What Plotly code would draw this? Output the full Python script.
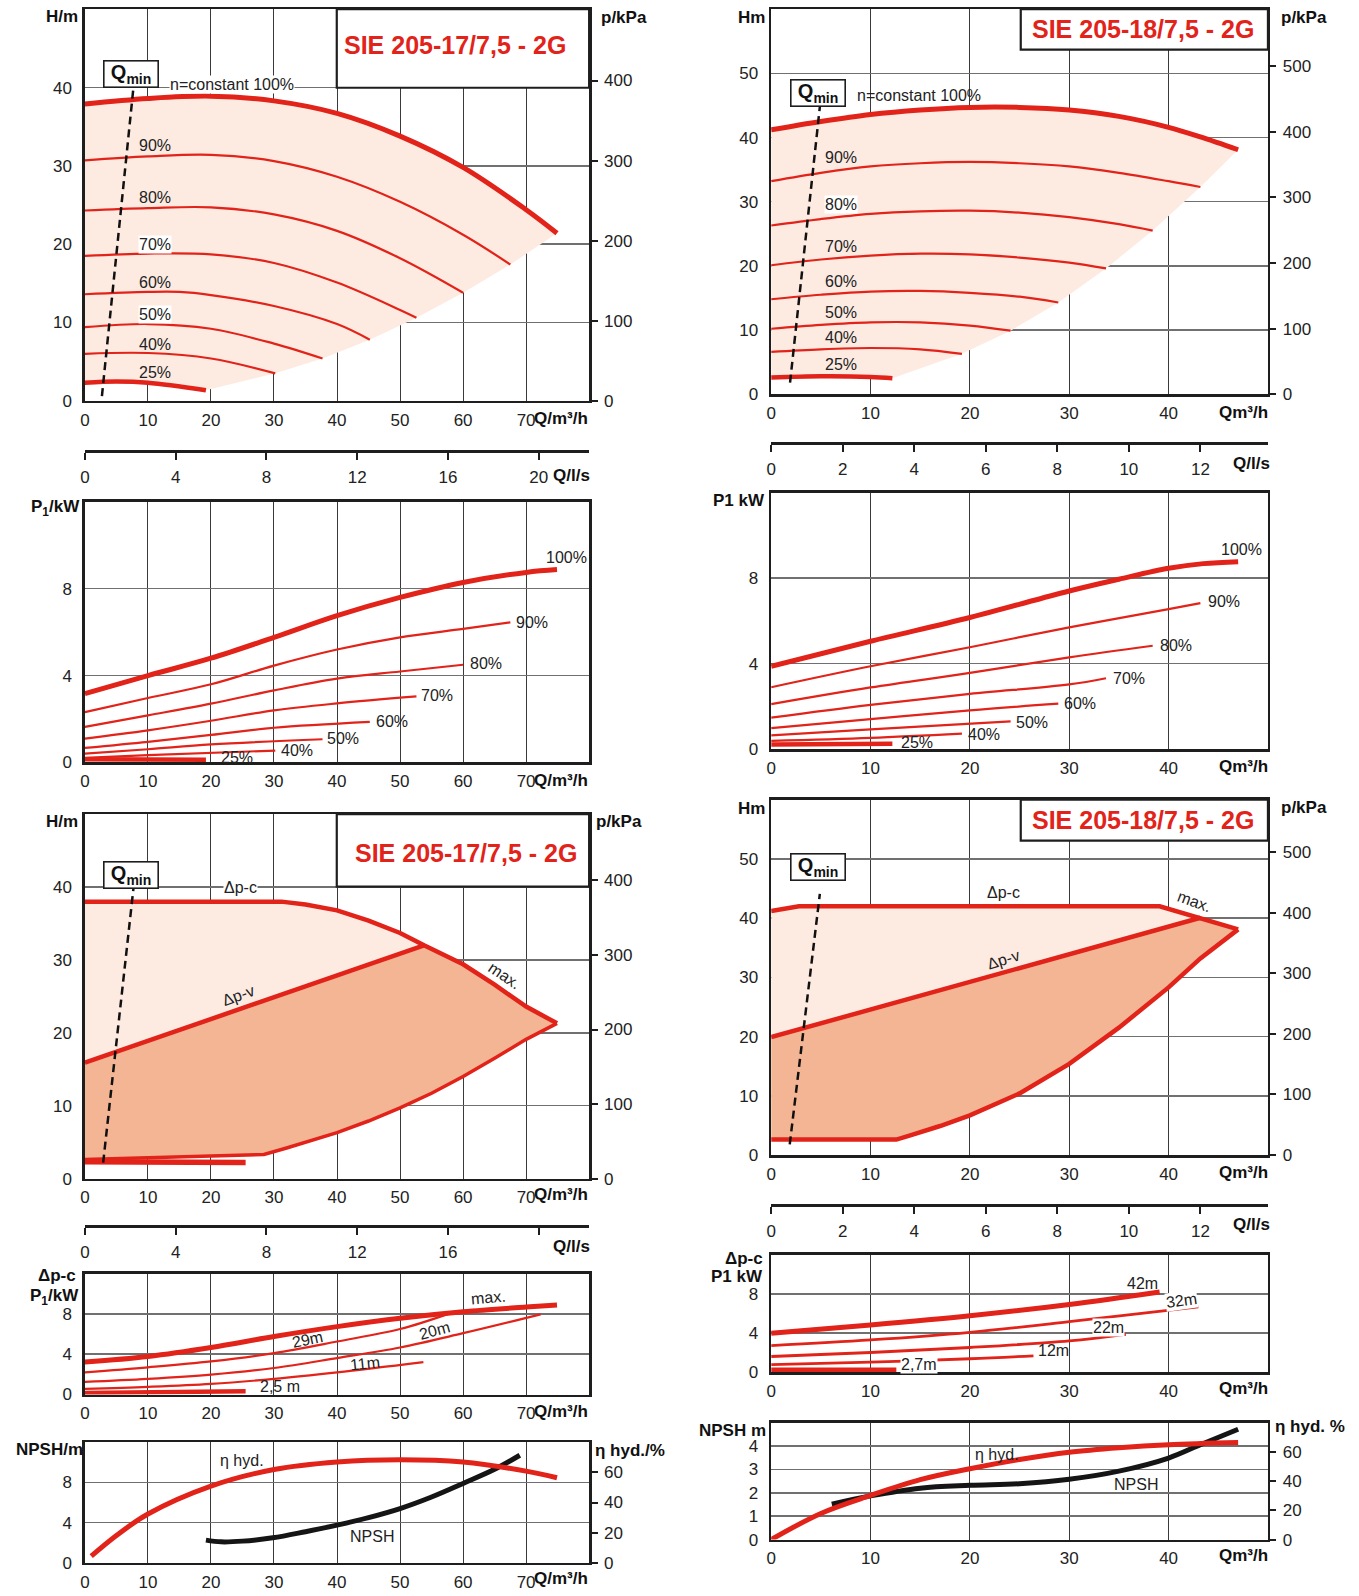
import plotly.graph_objects as go

# ------------------------------------------------------------------ data
KPA_PER_M = 9.78          # right pressure axis = head * 9.78
M3H_PER_LS = 3.6          # Q/l/s axis = Q/m3h / 3.6

TITLE_17 = "SIE 205-17/7,5 - 2G"
TITLE_18 = "SIE 205-18/7,5 - 2G"

# Panel A : SIE 205-17, H(Q) for speed steps
A_Q100 = [0, 10, 20, 30, 40, 50, 60, 70, 74.9]
A_H100 = [37.9, 38.6, 38.9, 38.3, 36.7, 33.8, 29.8, 24.4, 21.4]
A_Q90 = [0, 10, 20, 30, 40, 50, 60, 67.5]
A_H90 = [30.7, 31.2, 31.4, 30.6, 28.6, 25.4, 21.2, 17.4]
A_Q80 = [0, 10, 20, 30, 40, 50, 60]
A_H80 = [24.3, 24.6, 24.7, 23.8, 21.7, 18.2, 13.8]
A_Q70 = [0, 10, 20, 30, 40, 50, 52.6]
A_H70 = [18.5, 18.8, 18.7, 17.6, 15.1, 11.6, 10.6]
A_Q60 = [0, 10, 15, 20, 30, 40, 45.2]
A_H60 = [13.6, 13.9, 13.9, 13.5, 12.1, 9.8, 7.8]
A_Q50 = [0, 10, 20, 30, 37.7]
A_H50 = [9.4, 9.8, 9.2, 7.3, 5.4]
A_Q40 = [0, 10, 20, 30.2]
A_H40 = [6.0, 6.1, 5.4, 3.5]
A_Q25 = [0, 5, 10, 19.2]
A_H25 = [2.3, 2.45, 2.3, 1.35]
A_EDGE_Q = [19.2, 30.2, 37.7, 45.2, 52.6, 60, 67.5, 74.9]
A_EDGE_H = [1.35, 3.5, 5.4, 7.8, 10.6, 13.8, 17.4, 21.4]
A_QMIN_Q = [2.7, 7.7]
A_QMIN_H = [0.6, 40]
A_PCT_LABELS = ["90%", "80%", "70%", "60%", "50%", "40%", "25%"]
A_PCT_H = [32.6, 25.9, 20.0, 15.1, 11.0, 7.2, 3.6]

# Panel B : SIE 205-18, H(Q)
B_Q100 = [0, 5, 10, 15, 20, 25, 30, 35, 40, 43.2, 47]
B_H100 = [41.2, 42.5, 43.6, 44.3, 44.7, 44.7, 44.3, 43.3, 41.6, 40.1, 38.1]
B_Q90 = [0, 5, 10, 15, 20, 25, 30, 35, 40, 43.2]
B_H90 = [33.2, 34.5, 35.5, 36.0, 36.2, 36.0, 35.5, 34.5, 33.2, 32.3]
B_Q80 = [0, 5, 10, 15, 20, 25, 30, 35, 38.4]
B_H80 = [26.3, 27.3, 28.1, 28.5, 28.6, 28.3, 27.6, 26.5, 25.5]
B_Q70 = [0, 5, 10, 15, 20, 25, 30, 33.7]
B_H70 = [20.1, 21.0, 21.6, 21.9, 21.8, 21.3, 20.5, 19.6]
B_Q60 = [0, 5, 10, 15, 20, 25, 28.9]
B_H60 = [14.8, 15.5, 16.0, 16.1, 15.8, 15.2, 14.3]
B_Q50 = [0, 5, 10, 15, 20, 24.1]
B_H50 = [10.2, 10.8, 11.2, 11.2, 10.7, 9.9]
B_Q40 = [0, 5, 10, 15, 19.2]
B_H40 = [6.6, 7.0, 7.2, 7.0, 6.3]
B_Q25 = [0, 5, 10, 12.2]
B_H25 = [2.6, 2.8, 2.7, 2.5]
B_EDGE_Q = [12.2, 19.2, 24.1, 28.9, 33.7, 38.4, 43.2, 47]
B_EDGE_H = [2.5, 6.3, 9.9, 14.3, 19.6, 25.5, 32.3, 38.1]
B_QMIN_Q = [1.9, 4.9]
B_QMIN_H = [1.8, 44.8]
B_PCT_LABELS = ["90%", "80%", "70%", "60%", "50%", "40%", "25%"]
B_PCT_H = [36.9, 29.6, 23.1, 17.5, 12.8, 8.8, 4.6]

# Panel C : SIE 205-17, P1(Q)
C_Q100 = [0, 10, 20, 30, 40, 50, 60, 70, 74.9]
C_P100 = [3.17, 4.0, 4.8, 5.76, 6.76, 7.6, 8.29, 8.75, 8.88]
C_Q90 = [0, 10, 20, 30, 40, 50, 60, 67.5]
C_P90 = [2.32, 2.97, 3.6, 4.46, 5.2, 5.76, 6.15, 6.45]
C_Q80 = [0, 10, 20, 30, 40, 50, 60]
C_P80 = [1.64, 2.17, 2.71, 3.32, 3.86, 4.19, 4.5]
C_Q70 = [0, 10, 20, 30, 40, 52.6]
C_P70 = [1.1, 1.48, 1.92, 2.4, 2.72, 3.04]
C_Q60 = [0, 10, 20, 30, 45.2]
C_P60 = [0.67, 0.95, 1.27, 1.6, 1.87]
C_Q50 = [0, 10, 20, 37.7]
C_P50 = [0.41, 0.61, 0.83, 1.07]
C_Q40 = [0, 10, 30.2]
C_P40 = [0.21, 0.34, 0.55]
C_Q25 = [0, 19.2]
C_P25 = [0.15, 0.13]
C_LABELS = ["100%", "90%", "80%", "70%", "60%", "50%", "40%", "25%"]
C_LAB_Q = [73.0, 68.2, 61.0, 53.2, 46.1, 38.2, 31.0, 21.4]
C_LAB_P = [9.43, 6.45, 4.54, 3.09, 1.9, 1.1, 0.56, 0.21]

# Panel D : SIE 205-18, P1(Q)
D_Q100 = [0, 10, 20, 30, 35, 40, 43.5, 47]
D_P100 = [3.88, 5.05, 6.16, 7.4, 7.95, 8.46, 8.68, 8.77]
D_Q90 = [0, 10, 20, 30, 40, 43.2]
D_P90 = [2.9, 3.88, 4.77, 5.7, 6.55, 6.83]
D_Q80 = [0, 10, 20, 30, 38.4]
D_P80 = [2.11, 2.89, 3.57, 4.3, 4.84]
D_Q70 = [0, 10, 20, 30, 33.7]
D_P70 = [1.48, 2.08, 2.59, 3.03, 3.32]
D_Q60 = [0, 10, 20, 28.9]
D_P60 = [0.99, 1.41, 1.82, 2.13]
D_Q50 = [0, 10, 24.1]
D_P50 = [0.65, 0.93, 1.3]
D_Q40 = [0, 10, 19.2]
D_P40 = [0.39, 0.53, 0.73]
D_Q25 = [0, 12.2]
D_P25 = [0.22, 0.26]
D_LABELS = ["100%", "90%", "80%", "70%", "60%", "50%", "40%", "25%"]
D_LAB_Q = [45.2, 43.9, 39.0, 34.3, 29.4, 24.5, 19.7, 13.0]
D_LAB_P = [9.35, 6.9, 4.85, 3.3, 2.16, 1.27, 0.68, 0.31]

# Panel E : SIE 205-17, control range
E_DPC_Q = [0, 31.2, 35, 40, 45, 50, 53.8, 60, 65, 70, 74.9]
E_DPC_H = [38, 38, 37.6, 36.8, 35.4, 33.7, 32.0, 29.4, 26.6, 23.6, 21.3]
E_DPV_Q = [0, 53.8]
E_DPV_H = [15.9, 32.0]
E_MIN_Q = [0, 28.4, 32, 36, 40, 45, 50, 55, 60, 65, 70, 74.9]
E_MIN_H = [2.6, 3.3, 4.2, 5.2, 6.3, 7.9, 9.7, 11.7, 14.0, 16.5, 19.1, 21.3]
E_LOW_Q = [0, 25.5]
E_LOW_H = [2.3, 2.2]
E_QMIN_Q = [2.9, 7.7]
E_QMIN_H = [2.2, 39.8]

# Panel F : SIE 205-18, control range
F_DPC_Q = [0, 2.8, 39.1, 43.2, 47]
F_DPC_H = [41.2, 42.0, 42.0, 40.06, 38.1]
F_DPV_Q = [0, 43.2]
F_DPV_H = [19.9, 40.06]
F_MIN_Q = [0, 12.6, 14.0, 17, 20, 25, 30, 35, 40, 43.2, 47]
F_MIN_H = [2.6, 2.6, 3.3, 4.9, 6.7, 10.4, 15.4, 21.5, 28.3, 33.2, 38.1]
F_QMIN_Q = [1.87, 4.9]
F_QMIN_H = [1.8, 44.1]

# Panel G : SIE 205-17, P1 at constant differential pressure
G_QMAX = [0, 10, 20, 30, 40, 50, 60, 70, 74.9]
G_PMAX = [3.22, 3.78, 4.67, 5.76, 6.74, 7.57, 8.22, 8.68, 8.88]
G_Q29 = [0, 10, 20, 30, 40, 50, 57.9]
G_P29 = [2.2, 2.7, 3.29, 4.11, 5.26, 6.5, 8.06]
G_Q20 = [0, 10, 20, 30, 40, 50, 60, 72.3]
G_P20 = [1.25, 1.55, 1.97, 2.63, 3.62, 4.67, 6.09, 7.96]
G_Q11 = [0, 10, 20, 30, 40, 53.7]
G_P11 = [0.56, 0.76, 1.05, 1.55, 2.2, 3.22]
G_Q25 = [0, 25.5]
G_P25 = [0.16, 0.33]

# Panel H : SIE 205-17, NPSH and hydraulic efficiency
H_QETA = [1, 5, 10, 20, 30, 40, 50, 60, 70, 74.9]
H_ETA = [4.4, 18.1, 32.4, 50.9, 61.9, 66.9, 68.4, 66.9, 60.8, 56.4]
H_QNPSH = [19.2, 21.6, 25, 29.8, 35, 40, 45, 50, 55, 60, 65, 69]
H_NPSH = [2.26, 2.09, 2.16, 2.49, 3.1, 3.75, 4.5, 5.4, 6.55, 7.9, 9.3, 10.7]

# Panel I : SIE 205-18, P1 at constant differential pressure
I_Q42 = [0, 10, 20, 30, 39.1]
I_P42 = [3.97, 4.81, 5.76, 6.92, 8.2]
I_Q32 = [0, 10, 20, 30, 43]
I_P32 = [2.71, 3.29, 4.07, 5.15, 6.68]
I_Q22 = [0, 10, 20, 30, 35.7]
I_P22 = [1.59, 2.0, 2.51, 3.19, 3.86]
I_Q12 = [0, 10, 20, 26.4]
I_P12 = [0.75, 1.02, 1.36, 1.66]
I_Q27 = [0, 12.6]
I_P27 = [0.24, 0.24]

# Panel J : SIE 205-18, NPSH and hydraulic efficiency
J_QETA = [0, 5, 10, 15, 20, 25, 30, 35, 40, 47]
J_ETA = [0, 17.9, 30.2, 41.0, 48.5, 54.8, 59.8, 62.9, 65.0, 66.5]
J_QNPSH = [6.1, 10, 15, 20, 25, 30, 35, 40, 43.2, 47]
J_NPSH = [1.52, 1.87, 2.2, 2.32, 2.39, 2.58, 2.93, 3.49, 4.06, 4.72]

# ------------------------------------------------------------------ style
W, H = 1359, 1596
FONT = "Liberation Sans, Arial, Helvetica, sans-serif"
RED = "#e2231a"
LIGHT = "#fdebe2"
DARK = "#f4b595"
INK = "#1e1e1e"
THICK, THIN = 4.5, 2.2


def fx(p):
    return p / W


def fy(p):
    return 1 - p / H


def aname(kind, n):
    return f"{kind}axis" if n == 1 else f"{kind}axis{n}"


def aref(kind, n):
    return kind if n == 1 else f"{kind}{n}"


fig = go.Figure()
layout = {}
annotations = []
shapes = []

TICKFONT = dict(family=FONT, size=17, color="#222")


def panel(xn, yn, x0, x1, top, bot, xr, yr, xt, yt):
    layout[aname("x", xn)] = dict(
        domain=[fx(x0), fx(x1)], anchor=aref("y", yn), range=xr, tickvals=xt,
        showline=True, linecolor=INK, linewidth=2.5, mirror=True,
        showgrid=True, gridcolor="#3a3a3a", gridwidth=1, zeroline=False,
        ticks="", tickfont=TICKFONT, ticklabelstandoff=2, fixedrange=True)
    layout[aname("y", yn)] = dict(
        domain=[fy(bot), fy(top)], anchor=aref("x", xn), range=yr, tickvals=yt,
        showline=True, linecolor=INK, linewidth=2.5, mirror=True,
        showgrid=True, gridcolor="#707070", gridwidth=1.5, zeroline=False,
        ticks="", tickfont=TICKFONT, ticklabelstandoff=7, fixedrange=True)


def right_axis(yn, over_yn, xn, rng, tv):
    layout[aname("y", yn)] = dict(
        overlaying=aref("y", over_yn), side="right", anchor=aref("x", xn),
        range=rng, tickvals=tv, showgrid=False, zeroline=False,
        showline=True, linecolor=INK, linewidth=2.5,
        ticks="outside", ticklen=6, tickwidth=2, tickcolor=INK,
        tickfont=TICKFONT, ticklabelstandoff=3, fixedrange=True)
    fig.add_trace(go.Scatter(x=[None], y=[None], xaxis=aref("x", xn),
                             yaxis=aref("y", yn), showlegend=False, hoverinfo="skip"))


def ls_axis(xn, over_xn, yn, ypos, rng, tv, tt=None):
    layout[aname("x", xn)] = dict(
        overlaying=aref("x", over_xn), anchor="free", position=fy(ypos), range=rng,
        side="bottom",
        tickvals=tv, ticktext=tt if tt else [str(v) for v in tv],
        showline=True, linecolor=INK, linewidth=2.5, showgrid=False, zeroline=False,
        ticks="outside", ticklen=7, tickwidth=2, tickcolor=INK,
        tickfont=TICKFONT, ticklabelstandoff=3, fixedrange=True)
    fig.add_trace(go.Scatter(x=[None], y=[None], xaxis=aref("x", xn),
                             yaxis=aref("y", yn), showlegend=False, hoverinfo="skip"))


def line(xn, yn, q, v, color=RED, width=THIN, dash=None, shape="spline"):
    fig.add_trace(go.Scatter(
        x=q, y=v, xaxis=aref("x", xn), yaxis=aref("y", yn), mode="lines",
        line=dict(color=color, width=width, dash=dash, shape=shape,
                  smoothing=1.0 if shape == "spline" else None),
        showlegend=False, hoverinfo="skip"))


def area(xn, yn, q, v, color):
    fig.add_trace(go.Scatter(
        x=q, y=v, xaxis=aref("x", xn), yaxis=aref("y", yn), mode="lines",
        fill="toself", fillcolor=color, line=dict(width=0, color=color),
        showlegend=False, hoverinfo="skip"))


def label(xn, yn, q, v, text, xanchor="left", angle=0, bg=None, size=16):
    annotations.append(dict(
        x=q, y=v, xref=aref("x", xn), yref=aref("y", yn), text=text,
        showarrow=False, xanchor=xanchor, yanchor="middle", textangle=angle,
        font=dict(family=FONT, size=size, color="#222"),
        bgcolor=bg, borderpad=0))


def ptext(x, y, text, xanchor="center", size=17, color="#111", bold=True):
    annotations.append(dict(
        x=fx(x), y=fy(y), xref="paper", yref="paper",
        text=f"<b>{text}</b>" if bold else text, showarrow=False,
        xanchor=xanchor, yanchor="middle",
        font=dict(family=FONT, size=size, color=color)))


def qmin_box(xn, yn, q, v):
    annotations.append(dict(
        x=q, y=v, xref=aref("x", xn), yref=aref("y", yn),
        text="<b>Q<sub>min</sub></b>", showarrow=False,
        xanchor="center", yanchor="middle", width=51, height=23,
        font=dict(family=FONT, size=20, color="#111"),
        bgcolor="white", bordercolor=INK, borderwidth=1.6, borderpad=1))


def title_box(x0, top, x1, bot, tx, ty, text):
    shapes.append(dict(type="rect", xref="paper", yref="paper",
                       x0=fx(x0), x1=fx(x1), y0=fy(bot), y1=fy(top),
                       fillcolor="white", line=dict(color=INK, width=2.2),
                       layer="above"))
    ptext(tx, ty, text, size=25, color=RED)


LX0, LX1 = 80.2, 586.3
RX0, RX1 = 769.0, 1267.6
QL = [0, 80]
QR = [0, 50]
QLT = [0, 10, 20, 30, 40, 50, 60, 70]
QRT = [0, 10, 20, 30, 40]

# ---------------- Panel A
panel(1, 1, LX0, LX1, 9.3, 403.3, QL, [0, 50], QLT, [0, 10, 20, 30, 40])
right_axis(2, 1, 1, [0, 50 * KPA_PER_M], [0, 100, 200, 300, 400])
ls_axis(2, 1, 1, 454, [0, 80 / M3H_PER_LS], [0, 4, 8, 12, 16, 20])
area(1, 1, A_Q100 + A_EDGE_Q[::-1] + A_Q25[::-1],
     A_H100 + A_EDGE_H[::-1] + A_H25[::-1], LIGHT)
for q, h in [(A_Q90, A_H90), (A_Q80, A_H80), (A_Q70, A_H70), (A_Q60, A_H60),
             (A_Q50, A_H50), (A_Q40, A_H40)]:
    line(1, 1, q, h)
line(1, 1, A_Q100, A_H100, width=THICK + 0.5)
line(1, 1, A_Q25, A_H25, width=THICK)
line(1, 1, A_QMIN_Q, A_QMIN_H, color="#111", width=2.5, dash="8px,5px", shape="linear")
for t, h in zip(A_PCT_LABELS, A_PCT_H):
    label(1, 1, 8.4, h, t, bg="white" if t in ("70%", "50%") else None)
label(1, 1, 13.4, 40.4, "n=constant 100%", bg="white")
qmin_box(1, 1, 7.3, 41.7)
title_box(333, 9.3, LX1, 88.3, 452, 45, TITLE_17)
ptext(57.5, 16.7, "H/m")
ptext(621, 17.3, "p/kPa")
ptext(LX1 + 1, 421, "Q/m³/h", xanchor="right")
ptext(589, 479, "Q/l/s", xanchor="right")

# ---------------- Panel B
panel(3, 3, RX0, RX1, 9.3, 396.7, QR, [0, 60], QRT, [0, 10, 20, 30, 40, 50])
right_axis(4, 3, 3, [0, 60 * KPA_PER_M], [0, 100, 200, 300, 400, 500])
ls_axis(4, 3, 3, 446, [0, 50 / M3H_PER_LS], [0, 2, 4, 6, 8, 10, 12])
area(3, 3, B_Q100 + B_EDGE_Q[::-1] + B_Q25[::-1],
     B_H100 + B_EDGE_H[::-1] + B_H25[::-1], LIGHT)
for q, h in [(B_Q90, B_H90), (B_Q80, B_H80), (B_Q70, B_H70), (B_Q60, B_H60),
             (B_Q50, B_H50), (B_Q40, B_H40)]:
    line(3, 3, q, h)
line(3, 3, B_Q100, B_H100, width=THICK + 0.5)
line(3, 3, B_Q25, B_H25, width=THICK)
line(3, 3, B_QMIN_Q, B_QMIN_H, color="#111", width=2.5, dash="8px,5px", shape="linear")
for t, h in zip(B_PCT_LABELS, B_PCT_H):
    label(3, 3, 5.33, h, t, bg="white" if t == "80%" else None)
label(3, 3, 8.55, 46.6, "n=constant 100%")
qmin_box(3, 3, 4.7, 47.0)
title_box(1019.5, 9.3, RX1, 50, 1142.5, 29.3, TITLE_18)
ptext(749.4, 17.3, "Hm")
ptext(1303.6, 17.3, "p/kPa")
ptext(1270, 415, "Qm³/h", xanchor="right")
ptext(1272, 466, "Q/l/s", xanchor="right")

# ---------------- Panel C
panel(5, 5, LX0, LX1, 505, 767.3, QL, [0, 12], QLT, [0, 4, 8])
for q, p in [(C_Q90, C_P90), (C_Q80, C_P80), (C_Q70, C_P70), (C_Q60, C_P60),
             (C_Q50, C_P50), (C_Q40, C_P40)]:
    line(5, 5, q, p)
line(5, 5, C_Q100, C_P100, width=THICK + 0.5)
line(5, 5, C_Q25, C_P25, width=THICK)
for t, q, p in zip(C_LABELS, C_LAB_Q, C_LAB_P):
    label(5, 5, q, p, t)
ptext(51, 511.7, "P<sub>1</sub>/kW")
ptext(LX1 + 1, 785, "Q/m³/h", xanchor="right")

# ---------------- Panel D
panel(6, 6, RX0, RX1, 495.7, 754, QR, [0, 12], QRT, [0, 4, 8])
for q, p in [(D_Q90, D_P90), (D_Q80, D_P80), (D_Q70, D_P70), (D_Q60, D_P60),
             (D_Q50, D_P50), (D_Q40, D_P40)]:
    line(6, 6, q, p)
line(6, 6, D_Q100, D_P100, width=THICK + 0.5)
line(6, 6, D_Q25, D_P25, width=THICK)
for t, q, p in zip(D_LABELS, D_LAB_Q, D_LAB_P):
    label(6, 6, q, p, t)
ptext(764.6, 504, "P1 kW", xanchor="right")
ptext(1270, 771, "Qm³/h", xanchor="right")

# ---------------- Panel E
panel(7, 7, LX0, LX1, 819.3, 1186, QL, [0, 50], QLT, [0, 10, 20, 30, 40])
right_axis(8, 7, 7, [0, 50 * KPA_PER_M], [0, 100, 200, 300, 400])
ls_axis(8, 7, 7, 1234, [0, 80 / M3H_PER_LS], [0, 4, 8, 12, 16, 20],
        ["0", "4", "8", "12", "16", ""])
E_TAIL = [i for i, q in enumerate(E_DPC_Q) if q >= E_DPV_Q[-1]]
area(7, 7, E_DPC_Q + E_MIN_Q[::-1], E_DPC_H + E_MIN_H[::-1], LIGHT)
area(7, 7, E_DPV_Q + [E_DPC_Q[i] for i in E_TAIL[1:]] + E_MIN_Q[::-1],
     E_DPV_H + [E_DPC_H[i] for i in E_TAIL[1:]] + E_MIN_H[::-1], DARK)
line(7, 7, E_DPC_Q, E_DPC_H, width=THICK, shape="linear")
line(7, 7, E_DPV_Q, E_DPV_H, width=THICK, shape="linear")
line(7, 7, E_MIN_Q, E_MIN_H, width=3.5, shape="linear")
line(7, 7, E_LOW_Q, E_LOW_H, width=THICK + 1, shape="linear")
line(7, 7, E_QMIN_Q, E_QMIN_H, color="#111", width=2.5, dash="8px,5px", shape="linear")
label(7, 7, 24.7, 39.9, "Δp-c", xanchor="center", bg="white")
label(7, 7, 24.3, 25.1, "Δp-v", xanchor="center", angle=-20)
label(7, 7, 66.5, 27.8, "max.", xanchor="center", angle=34)
qmin_box(7, 7, 7.3, 41.6)
title_box(333, 819.3, LX1, 892.3, 463, 858.3, TITLE_17)
ptext(57.7, 826.7, "H/m")
ptext(616.6, 826.7, "p/kPa")
ptext(LX1 + 1, 1202, "Q/m³/h", xanchor="right")
ptext(589, 1254, "Q/l/s", xanchor="right")

# ---------------- Panel F
panel(9, 9, RX0, RX1, 804.7, 1162.3, QR, [0, 60], QRT, [0, 10, 20, 30, 40, 50])
right_axis(10, 9, 9, [0, 60 * KPA_PER_M], [0, 100, 200, 300, 400, 500])
ls_axis(10, 9, 9, 1212.7, [0, 50 / M3H_PER_LS], [0, 2, 4, 6, 8, 10, 12])
F_TAIL = [i for i, q in enumerate(F_DPC_Q) if q >= F_DPV_Q[-1]]
area(9, 9, F_DPC_Q + F_MIN_Q[::-1], F_DPC_H + F_MIN_H[::-1], LIGHT)
area(9, 9, F_DPV_Q + [F_DPC_Q[i] for i in F_TAIL[1:]] + F_MIN_Q[::-1],
     F_DPV_H + [F_DPC_H[i] for i in F_TAIL[1:]] + F_MIN_H[::-1], DARK)
line(9, 9, F_DPC_Q, F_DPC_H, width=THICK, shape="linear")
line(9, 9, F_DPV_Q, F_DPV_H, width=THICK, shape="linear")
line(9, 9, F_MIN_Q, F_MIN_H, width=THICK, shape="linear")
line(9, 9, F_QMIN_Q, F_QMIN_H, color="#111", width=2.5, dash="8px,5px", shape="linear")
label(9, 9, 23.4, 44.4, "Δp-c", xanchor="center")
label(9, 9, 23.4, 33.0, "Δp-v", xanchor="center", angle=-17)
label(9, 9, 42.6, 42.8, "max.", xanchor="center", angle=20)
qmin_box(9, 9, 4.7, 48.6)
title_box(1019.5, 804.7, RX1, 846, 1142.5, 825, TITLE_18)
ptext(749.4, 813.3, "Hm")
ptext(1303.6, 812.7, "p/kPa")
ptext(1270, 1180, "Qm³/h", xanchor="right")
ptext(1272, 1232.5, "Q/l/s", xanchor="right")

# ---------------- Panel G
panel(11, 11, LX0, LX1, 1281.7, 1403.3, QL, [0, 12], QLT, [0, 4, 8])
for q, p in [(G_Q29, G_P29), (G_Q20, G_P20), (G_Q11, G_P11)]:
    line(11, 11, q, p)
line(11, 11, G_QMAX, G_PMAX, width=THICK + 0.5)
line(11, 11, G_Q25, G_P25, width=THICK, shape="linear")
label(11, 11, 61.0, 9.6, "max.", angle=-5)
label(11, 11, 35.3, 5.45, "29m", xanchor="center", angle=-12)
label(11, 11, 55.5, 6.35, "20m", xanchor="center", angle=-15)
label(11, 11, 44.5, 3.1, "11m", xanchor="center", angle=-6)
label(11, 11, 31.0, 0.75, "2,5 m", xanchor="center")
ptext(73.7, 1283.3, "Δp-c", xanchor="right")
ptext(76, 1305, "P<sub>1</sub>/kW", xanchor="right")
ptext(LX1 + 1, 1420, "Q/m³/h", xanchor="right")

# ---------------- Panel H
panel(12, 12, LX0, LX1, 1451.3, 1572.7, QL, [0, 12], QLT, [0, 4, 8])
right_axis(13, 12, 12, [0, 80], [0, 20, 40, 60])
line(12, 13, H_QETA, H_ETA, width=THICK + 0.5)
line(12, 12, H_QNPSH, H_NPSH, color="#151515", width=THICK + 0.5)
label(12, 12, 25.0, 10.2, "η hyd.", xanchor="center")
label(12, 12, 45.6, 2.6, "NPSH", xanchor="center")
ptext(44.9, 1458.3, "NPSH/m")
ptext(627.7, 1459.3, "η hyd./%")
ptext(LX1 + 1, 1588, "Q/m³/h", xanchor="right")

# ---------------- Panel I
panel(13, 14, RX0, RX1, 1262.7, 1380.7, QR, [0, 12], QRT, [0, 4, 8])
for q, p in [(I_Q32, I_P32), (I_Q22, I_P22), (I_Q12, I_P12)]:
    line(13, 14, q, p, width=THIN + 0.6)
line(13, 14, I_Q42, I_P42, width=THICK + 0.5)
line(13, 14, I_Q27, I_P27, width=THICK, shape="linear")
label(13, 14, 37.4, 9.05, "42m", xanchor="center")
label(13, 14, 41.3, 7.3, "32m", xanchor="center", angle=-8, bg="white")
label(13, 14, 34.0, 4.55, "22m", xanchor="center", bg="white")
label(13, 14, 28.4, 2.17, "12m", xanchor="center")
label(13, 14, 14.85, 0.75, "2,7m", xanchor="center", bg="white")
ptext(763.3, 1266.7, "Δp-c", xanchor="right")
ptext(762.4, 1285, "P1 kW", xanchor="right")
ptext(1270, 1397, "Qm³/h", xanchor="right")

# ---------------- Panel J
panel(14, 15, RX0, RX1, 1431.7, 1549.3, QR, [0, 5], QRT, [0, 1, 2, 3, 4])
right_axis(16, 15, 14, [0, 80], [0, 20, 40, 60])
line(14, 15, J_QNPSH, J_NPSH, color="#151515", width=THICK + 0.5)
line(14, 16, J_QETA, J_ETA, width=THICK + 0.5)
label(14, 15, 22.7, 3.63, "η hyd.", xanchor="center")
label(14, 15, 36.7, 2.37, "NPSH", xanchor="center")
ptext(730.5, 1439.3, "NPSH m")
ptext(1310, 1435, "η hyd. %")
ptext(1270, 1565, "Qm³/h", xanchor="right")

fig.update_layout(
    width=W, height=H, autosize=False,
    margin=dict(l=0, r=0, t=0, b=0),
    paper_bgcolor="white", plot_bgcolor="rgba(0,0,0,0)",
    showlegend=False, font=dict(family=FONT, size=16, color="#222"),
    annotations=annotations, shapes=shapes, **layout)

fig.write_html("out.html", config={"displayModeBar": False, "staticPlot": True})
